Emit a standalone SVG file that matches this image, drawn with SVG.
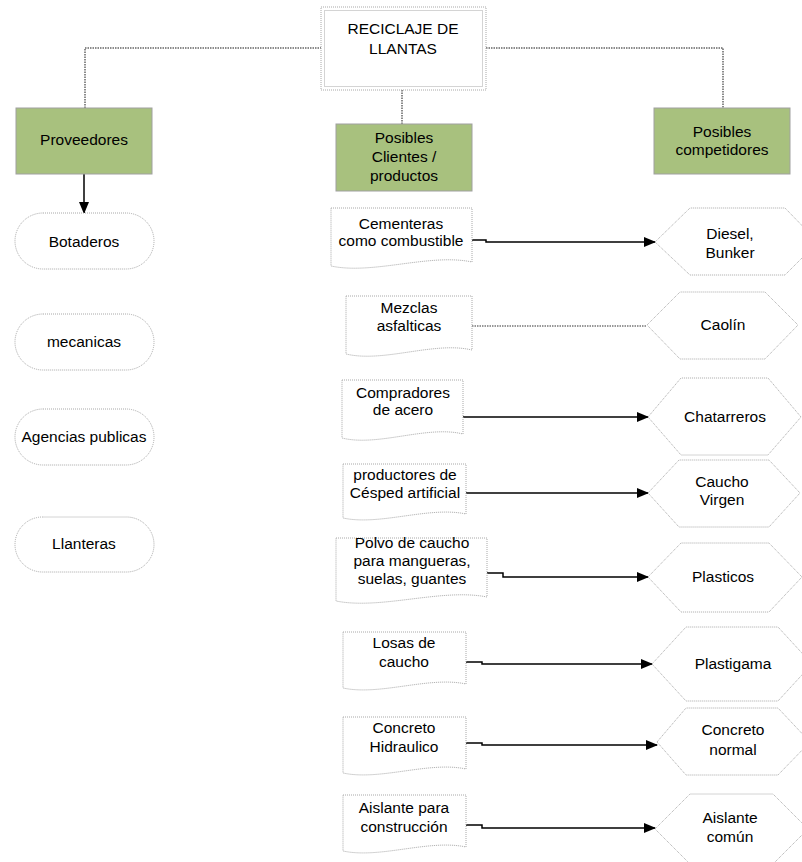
<svg xmlns="http://www.w3.org/2000/svg" width="802" height="862" viewBox="0 0 802 862">
<style>
text{font-family:"Liberation Sans",Arial,sans-serif;font-size:15.5px;fill:#000;text-anchor:middle}
.shape{fill:#fff;stroke:#a8a8a8;stroke-width:1;stroke-dasharray:1,1}
.green{fill:#a8c17e;stroke:#a0a0a0;stroke-width:1}
.tree{fill:none;stroke:#666;stroke-width:1.5;stroke-dasharray:1.5,1}
.arrow{fill:none;stroke:#000;stroke-width:1.5;marker-end:url(#ah)}
.plain{fill:none;stroke:#777;stroke-width:1.3;stroke-dasharray:1.5,1}
</style>
<defs>
<marker id="ah" markerUnits="userSpaceOnUse" markerWidth="12" markerHeight="10" refX="11" refY="5" orient="auto">
<path d="M0,0 L12,5 L0,10 Z" fill="#000"/>
</marker>
</defs>

<g id="connectors">
<path class="tree" d="M85,108 V48 H321"/>
<path class="tree" d="M486,48 H723 V108"/>
<path class="tree" d="M402,90 V124"/>
<path class="arrow" d="M84,174 V213"/>
<path class="arrow" d="M472,240 H486 V242 H655"/>
<path class="plain" d="M472,326 H647"/>
<path class="arrow" d="M463,417 H648"/>
<path class="arrow" d="M466,493 H648"/>
<path class="arrow" d="M487,573 H503 V577 H648"/>
<path class="arrow" d="M466,662 H482 V664 H652"/>
<path class="arrow" d="M466,743 H482 V745 H657"/>
<path class="arrow" d="M466,825 H482 V828 H655"/>
</g>

<g id="root">
<rect class="shape" x="321" y="7" width="165" height="83"/>
<rect class="shape" x="324.5" y="10.5" width="158" height="76"/>
<text x="403" y="34">RECICLAJE DE</text>
<text x="403" y="54">LLANTAS</text>
</g>

<g id="proveedores">
<rect class="green" x="16" y="108" width="136" height="66"/>
<text x="84" y="145">Proveedores</text>
</g>
<g id="clientes">
<rect class="green" x="336" y="124" width="136" height="67"/>
<text x="404" y="143">Posibles</text>
<text x="404" y="162">Clientes /</text>
<text x="404" y="181">productos</text>
</g>
<g id="competidores">
<rect class="green" x="654" y="108" width="136" height="66"/>
<text x="722" y="137">Posibles</text>
<text x="722" y="155">competidores</text>
</g>

<g id="botaderos">
<rect class="shape" x="15" y="213" width="139" height="56" rx="28"/>
<text x="84" y="247">Botaderos</text>
</g>
<g id="mecanicas">
<rect class="shape" x="15" y="314" width="139" height="56" rx="28"/>
<text x="84" y="347">mecanicas</text>
</g>
<g id="agencias">
<rect class="shape" x="15" y="409" width="139" height="56" rx="28"/>
<text x="84" y="442">Agencias publicas</text>
</g>
<g id="llanteras">
<rect class="shape" x="15" y="517" width="139" height="55" rx="27.5"/>
<text x="84" y="549">Llanteras</text>
</g>

<g id="cementeras">
<path class="shape" d="M331,208 H472 V262 C430,253 373,275 331,266 Z"/>
<text x="401" y="229">Cementeras</text>
<text x="401" y="246">como combustible</text>
</g>
<g id="mezclas">
<path class="shape" d="M346,296 H472 V350 C434,341 384,363 346,354 Z"/>
<text x="409" y="313">Mezclas</text>
<text x="409" y="331">asfalticas</text>
</g>
<g id="compradores">
<path class="shape" d="M342,380 H463 V434 C427,425 378,447 342,438 Z"/>
<text x="403" y="398">Compradores</text>
<text x="403" y="415">de acero</text>
</g>
<g id="productores">
<path class="shape" d="M343,464 H466 V514 C429,506 380,526 343,518 Z"/>
<text x="405" y="480">productores de</text>
<text x="405" y="498">Césped artificial</text>
</g>
<g id="polvo">
<path class="shape" d="M336,538 H487 V597 C442,588 381,610 336,601 Z"/>
<text x="412" y="548">Polvo de caucho</text>
<text x="412" y="566">para mangueras,</text>
<text x="412" y="584">suelas, guantes</text>
</g>
<g id="losas">
<path class="shape" d="M343,632 H466 V684 C429,676 380,696 343,688 Z"/>
<text x="404" y="648">Losas de</text>
<text x="404" y="667">caucho</text>
</g>
<g id="concreto">
<path class="shape" d="M343,717 H466 V769 C429,761 380,781 343,773 Z"/>
<text x="404" y="733">Concreto</text>
<text x="404" y="752">Hidraulico</text>
</g>
<g id="aislante">
<path class="shape" d="M343,795 H466 V847 C429,839 380,859 343,851 Z"/>
<text x="404" y="813">Aislante para</text>
<text x="404" y="832">construcción</text>
</g>

<g id="diesel">
<path class="shape" d="M655,242 L690,208 H785 L818,242 L785,275 H690 Z"/>
<text x="730" y="239">Diesel,</text>
<text x="730" y="258">Bunker</text>
</g>
<g id="caolin">
<path class="shape" d="M647,325 L680,292 H765 L798,325 L765,359 H680 Z"/>
<text x="723" y="330">Caolín</text>
</g>
<g id="chatarreros">
<path class="shape" d="M648,417 L681,378 H768 L801,417 L768,455 H681 Z"/>
<text x="725" y="422">Chatarreros</text>
</g>
<g id="caucho">
<path class="shape" d="M648,493 L679,460 H769 L800,493 L769,527 H679 Z"/>
<text x="722" y="487">Caucho</text>
<text x="722" y="505">Virgen</text>
</g>
<g id="plasticos">
<path class="shape" d="M648,577 L681,543 H769 L802,577 L769,612 H681 Z"/>
<text x="723" y="582">Plasticos</text>
</g>
<g id="plastigama">
<path class="shape" d="M652,664 L686,627 H778 L812,664 L778,701 H686 Z"/>
<text x="733" y="669">Plastigama</text>
</g>
<g id="concreto-normal">
<path class="shape" d="M657,742 L686,708 H778 L810,742 L778,775 H686 Z"/>
<text x="733" y="735">Concreto</text>
<text x="733" y="755">normal</text>
</g>
<g id="aislante-comun">
<path class="shape" d="M655,829 L690,794 H773 L808,829 L773,864 H690 Z"/>
<text x="730" y="823">Aislante</text>
<text x="730" y="842">común</text>
</g>
</svg>
